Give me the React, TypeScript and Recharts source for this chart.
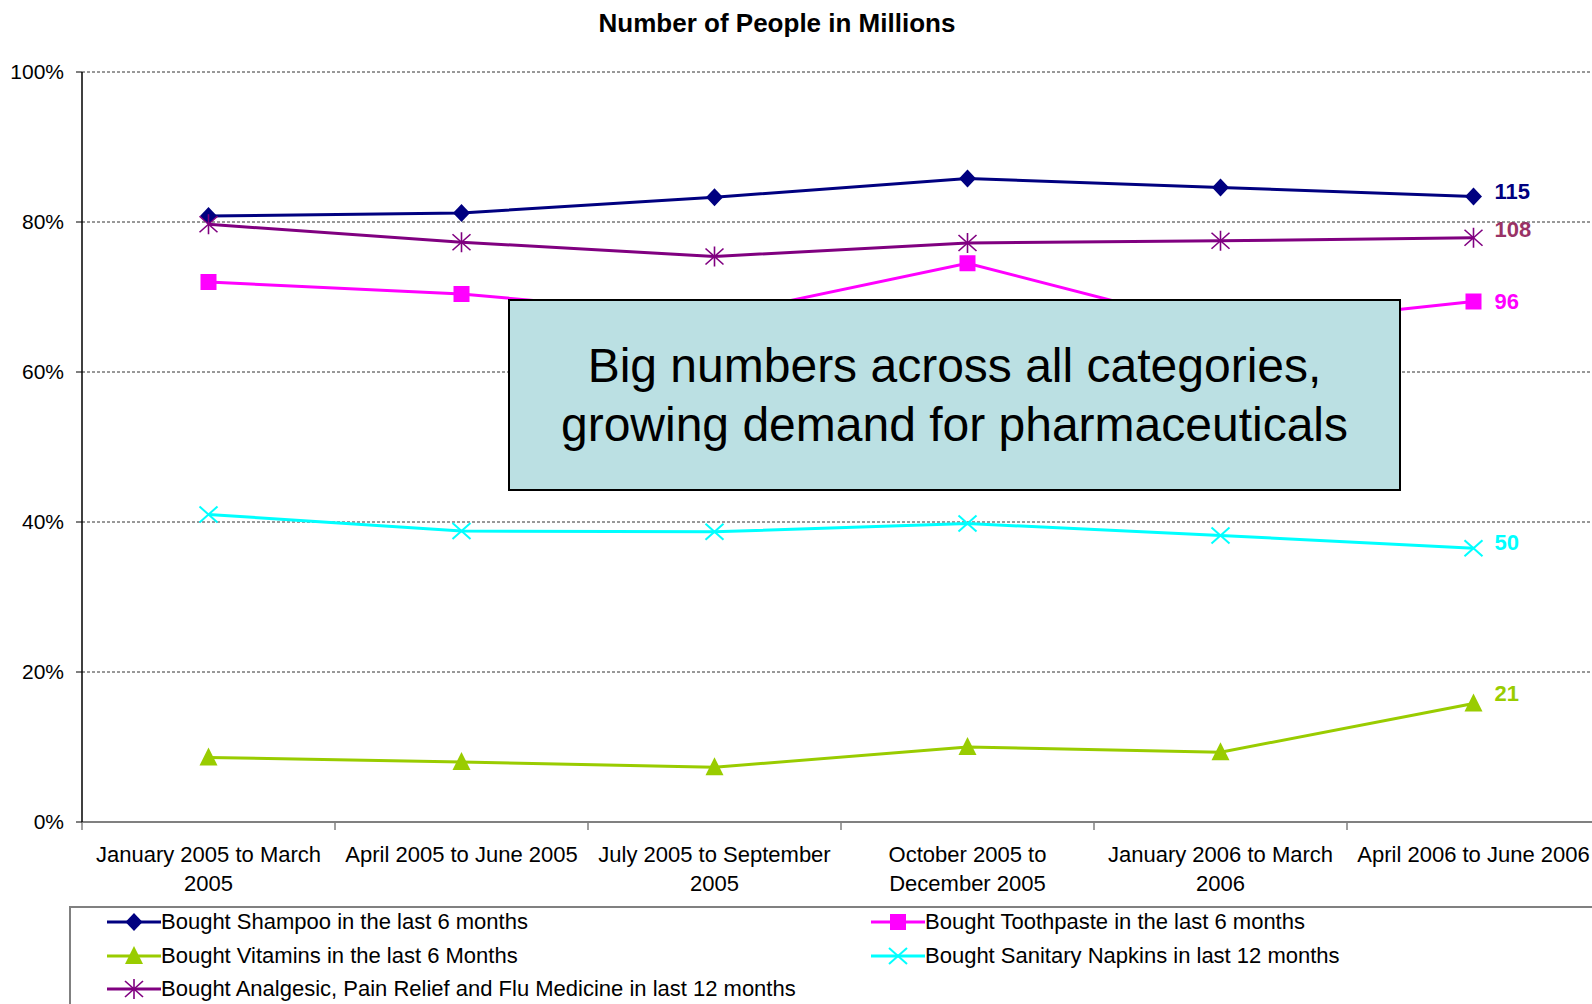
import React from 'react';
import { LineChart, Line, XAxis, YAxis, CartesianGrid, LabelList } from 'recharts';

const categories = [
  'January 2005 to March 2005',
  'April 2005 to June 2005',
  'July 2005 to September 2005',
  'October 2005 to December 2005',
  'January 2006 to March 2006',
  'April 2006 to June 2006',
];
const tickLines = [
  ['January 2005 to March', '2005'],
  ['April 2005 to June 2005'],
  ['July 2005 to September', '2005'],
  ['October 2005 to', 'December 2005'],
  ['January 2006 to March', '2006'],
  ['April 2006 to June 2006'],
];
const yTicks = [0, 20, 40, 60, 80, 100];

const shampoo = [80.8, 81.2, 83.3, 85.8, 84.6, 83.4];
const toothpaste = [72.0, 70.4, 67.4, 74.5, 65.8, 69.4];
const vitamins = [8.6, 8.0, 7.3, 10.0, 9.3, 15.8];
const napkins = [41.0, 38.8, 38.7, 39.8, 38.2, 36.5];
const analgesic = [79.7, 77.3, 75.4, 77.2, 77.5, 77.9];
const endLabels = [115, 96, 21, 50, 108];

const FONT = '"Liberation Sans", Arial, sans-serif';
const CHART_W = 1600;
const PLOT_LEFT = 82;
const BAND = (CHART_W - PLOT_LEFT) / categories.length;

type Shape = 'diamond' | 'square' | 'triangle' | 'xmark' | 'star';

const series: { key: string; name: string; color: string; labelColor: string; shape: Shape; labelDy: number }[] = [
  { key: 'shampoo', name: 'Bought Shampoo in the last 6 months', color: '#000080', labelColor: '#000080', shape: 'diamond', labelDy: -5 },
  { key: 'toothpaste', name: 'Bought Toothpaste in the last 6 months', color: '#FF00FF', labelColor: '#FF00FF', shape: 'square', labelDy: 0 },
  { key: 'vitamins', name: 'Bought Vitamins in the last 6 Months', color: '#99CC00', labelColor: '#99CC00', shape: 'triangle', labelDy: -10 },
  { key: 'napkins', name: 'Bought Sanitary Napkins in last 12 months', color: '#00FFFF', labelColor: '#00FFFF', shape: 'xmark', labelDy: -6 },
  { key: 'analgesic', name: 'Bought Analgesic, Pain Relief and Flu Medicine in last 12 months', color: '#800080', labelColor: '#993366', shape: 'star', labelDy: -8 },
];

const values: Record<string, number[]> = { shampoo, toothpaste, vitamins, napkins, analgesic };

const data = categories.map((c, i) => ({
  x: i + 0.5,
  name: c,
  shampoo: shampoo[i],
  toothpaste: toothpaste[i],
  vitamins: vitamins[i],
  napkins: napkins[i],
  analgesic: analgesic[i],
}));

function marker(shape: Shape, cx: number, cy: number, color: string, key?: string | number) {
  switch (shape) {
    case 'diamond':
      return <path key={key} d={`M${cx},${cy - 9}L${cx + 8.5},${cy}L${cx},${cy + 9}L${cx - 8.5},${cy}Z`} fill={color} />;
    case 'square':
      return <rect key={key} x={cx - 8} y={cy - 8} width={16} height={16} fill={color} />;
    case 'triangle':
      return <path key={key} d={`M${cx},${cy - 10}L${cx + 9},${cy + 8}L${cx - 9},${cy + 8}Z`} fill={color} />;
    case 'xmark':
      return (
        <g key={key} stroke={color} strokeWidth={2}>
          <line x1={cx - 9} y1={cy - 8} x2={cx + 9} y2={cy + 8} />
          <line x1={cx - 9} y1={cy + 8} x2={cx + 9} y2={cy - 8} />
        </g>
      );
    case 'star':
      return (
        <g key={key} stroke={color} strokeWidth={1.6}>
          <line x1={cx - 9} y1={cy - 8} x2={cx + 9} y2={cy + 8} />
          <line x1={cx - 9} y1={cy + 8} x2={cx + 9} y2={cy - 8} />
          <line x1={cx} y1={cy - 10} x2={cx} y2={cy + 10} />
        </g>
      );
  }
}

const XTick = (props: any) => {
  const { x, y, payload } = props;
  const i = Math.round(payload.value);
  if (i >= categories.length) return <g />;
  return (
    <text x={x + BAND / 2} y={y} textAnchor="middle" fontSize={22} fill="#000" fontFamily={FONT}>
      {tickLines[i].map((l, j) => (
        <tspan key={j} x={x + BAND / 2} y={y + 30 + j * 29}>
          {l}
        </tspan>
      ))}
    </text>
  );
};

function Legend() {
  const pos = [
    [36, 14],
    [800, 14],
    [36, 48],
    [800, 48],
    [36, 81],
  ];
  return (
    <div
      style={{
        position: 'absolute',
        left: 69,
        top: 906,
        width: 1600,
        height: 200,
        border: '2px solid #808080',
        boxSizing: 'border-box',
        fontFamily: FONT,
        fontSize: 22,
        background: '#fff',
      }}
    >
      {series.map((s, i) => (
        <div
          key={s.key}
          style={{ position: 'absolute', left: pos[i][0], top: pos[i][1] - 13, height: 26, display: 'flex', alignItems: 'center', whiteSpace: 'nowrap' }}
        >
          <svg width={54} height={26} style={{ marginRight: 0 }}>
            <line x1={0} y1={13} x2={54} y2={13} stroke={s.color} strokeWidth={3} />
            {marker(s.shape, 27, 13, s.color)}
          </svg>
          <span>{s.name}</span>
        </div>
      ))}
    </div>
  );
}

export default function App() {
  return (
    <div style={{ position: 'absolute', left: 0, top: 0, width: 1592, height: 1004, overflow: 'hidden', background: '#fff', fontFamily: FONT }}>
      <div style={{ position: 'absolute', left: 377, top: 8, width: 800, textAlign: 'center', fontSize: 26, fontWeight: 'bold', lineHeight: '30px' }}>
        Number of People in Millions
      </div>
      <LineChart width={CHART_W} height={1004} data={data} margin={{ top: 72, right: 0, left: 0, bottom: 112 }}>
        <CartesianGrid vertical={false} stroke="#333" strokeDasharray="3 2" />
        <XAxis
          dataKey="x"
          type="number"
          domain={[0, 6]}
          ticks={[0, 1, 2, 3, 4, 5, 6]}
          interval={0}
          height={70}
          axisLine={{ stroke: '#808080', strokeWidth: 2 }}
          tickLine={{ stroke: '#808080', strokeWidth: 1.5 }}
          tickSize={8}
          tick={<XTick />}
        />
        <YAxis
          type="number"
          domain={[0, 100]}
          ticks={yTicks}
          width={PLOT_LEFT}
          tickFormatter={(v: number) => `${v}%`}
          tick={{ fontSize: 21, fill: '#000', fontFamily: FONT }}
          axisLine={{ stroke: '#000', strokeWidth: 1.5 }}
          tickLine={{ stroke: '#000' }}
          tickSize={6}
          tickMargin={12}
        />
        {series.map((s, si) => (
          <Line
            key={s.key}
            dataKey={s.key}
            type="linear"
            stroke={s.color}
            strokeWidth={3}
            isAnimationActive={false}
            activeDot={false}
            dot={(p: any) => marker(s.shape, p.cx, p.cy, s.color, `${s.key}-${p.index}`)}
          >
            <LabelList
              dataKey={s.key}
              content={(lp: any) =>
                lp.index === values[s.key].length - 1 ? (
                  <text
                    x={lp.x + 21}
                    y={lp.y + s.labelDy}
                    dy="0.35em"
                    fontSize={22}
                    fontWeight="bold"
                    fill={s.labelColor}
                    fontFamily={FONT}
                  >
                    {endLabels[si]}
                  </text>
                ) : null
              }
            />
          </Line>
        ))}
      </LineChart>
      <div
        style={{
          position: 'absolute',
          left: 508,
          top: 299,
          width: 893,
          height: 192,
          boxSizing: 'border-box',
          border: '2px solid #000',
          background: '#BBE0E3',
          display: 'flex',
          flexDirection: 'column',
          justifyContent: 'center',
          alignItems: 'center',
          fontSize: 48,
          lineHeight: '59px',
          color: '#000',
        }}
      >
        <div>Big numbers across all categories,</div>
        <div>growing demand for pharmaceuticals</div>
      </div>
      <Legend />
    </div>
  );
}
